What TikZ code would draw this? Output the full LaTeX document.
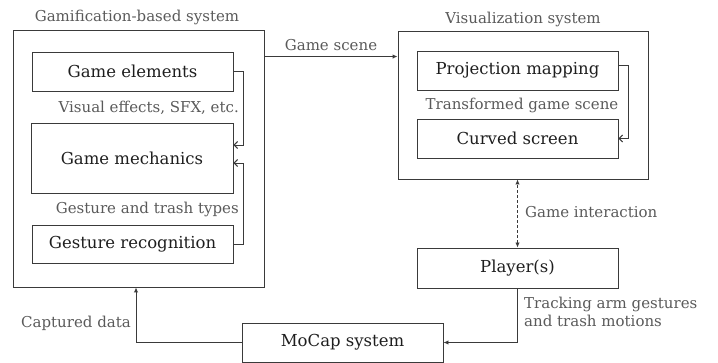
\documentclass[tikz,border=0pt]{standalone}
\usepackage{fontspec}
\setmainfont{DejaVu Serif}
\usetikzlibrary{arrows.meta,calc}
\definecolor{lin}{HTML}{3A3A3A}
\definecolor{lab}{HTML}{5A5A5A}
\definecolor{txt}{HTML}{1E1E1E}
\begin{document}
\begin{tikzpicture}[x=1pt,y=-1pt,
  box/.style={draw=lin,line width=0.95pt,rectangle,inner sep=0pt,text=txt,font=\fontsize{16.5}{18}\selectfont},
  lbl/.style={text=lab,inner sep=0pt,font=\fontsize{15}{17.5}\selectfont},
  inar/.style={draw=lin,line width=0.95pt,-{Straight Barb[length=3.5pt,width=7pt]}},
  exar/.style={draw=lin,line width=0.95pt,-{Latex[length=5pt,width=4.5pt]}},
  dbar/.style={draw=lin,line width=0.95pt,dash pattern=on 3pt off 2pt,{Latex[length=5pt,width=4.5pt]}-{Latex[length=5pt,width=4.5pt]}}]
\useasboundingbox (0,0) rectangle (718,363);
% boxes
\node[box,minimum width=251pt,minimum height=257pt] (outer) at (138.5,158.5) {};
\node[box,minimum width=201pt,minimum height=39pt] (ge) at (132.5,71.5) {Game elements};
\node[box,minimum width=202pt,minimum height=70pt] (gm) at (132,158) {Game mechanics};
\node[box,minimum width=201pt,minimum height=38pt] (gr) at (132.5,244) {Gesture recognition};
\node[box,minimum width=250pt,minimum height=148pt] (vis) at (523,105) {};
\node[box,minimum width=201pt,minimum height=39pt] (pm) at (517.5,70.5) {Projection mapping};
\node[box,minimum width=201pt,minimum height=39pt] (cs) at (517.5,138.5) {Curved screen};
\node[box,minimum width=201pt,minimum height=40pt] (pl) at (517.5,268) {Player(s)};
\node[box,minimum width=201pt,minimum height=39pt] (mc) at (342.5,342.5) {MoCap system};
% titles and labels
\node[lbl] (t1) at (137,17) {Gamification-based system};
\node[lbl] (t2) at (523,19) {Visualization system};
\node[lbl] (l1) at (331,45) {Game scene};
\node[lbl,anchor=east] (l2) at (239,108) {Visual effects, SFX, etc.};
\node[lbl,anchor=east] (l3) at (239,209) {Gesture and trash types};
\node[lbl] (l4) at (522,105) {Transformed game scene};
\node[lbl,anchor=west] (l5) at (525,212) {Game interaction};
\node[lbl,anchor=north west,align=left] (l6) at (524,297) {Tracking arm gestures\\and trash motions};
\node[lbl,anchor=east] (l7) at (131,323) {Captured data};
% connectors
\draw[inar] (ge.east) -- ++(10,0) |- ([yshift=13pt]gm.east);
\draw[inar] (gr.east) -- ++(10,0) |- ([yshift=-5pt]gm.east);
\coordinate (gs) at ([yshift=-27pt]outer.north east);
\draw[exar] (gs) -- (gs -| vis.west);
\draw[inar] ([yshift=5.5pt]pm.east) -- ++(10,0) |- (cs.east);
\draw[dbar] (pl.north) -- (pl.north |- vis.south);
\draw[exar] (pl.south) |- (mc.east);
\coordinate (cd) at ([xshift=-2.5pt]outer.south);
\draw[exar] (mc.west) -| (cd);
\end{tikzpicture}
\end{document}
